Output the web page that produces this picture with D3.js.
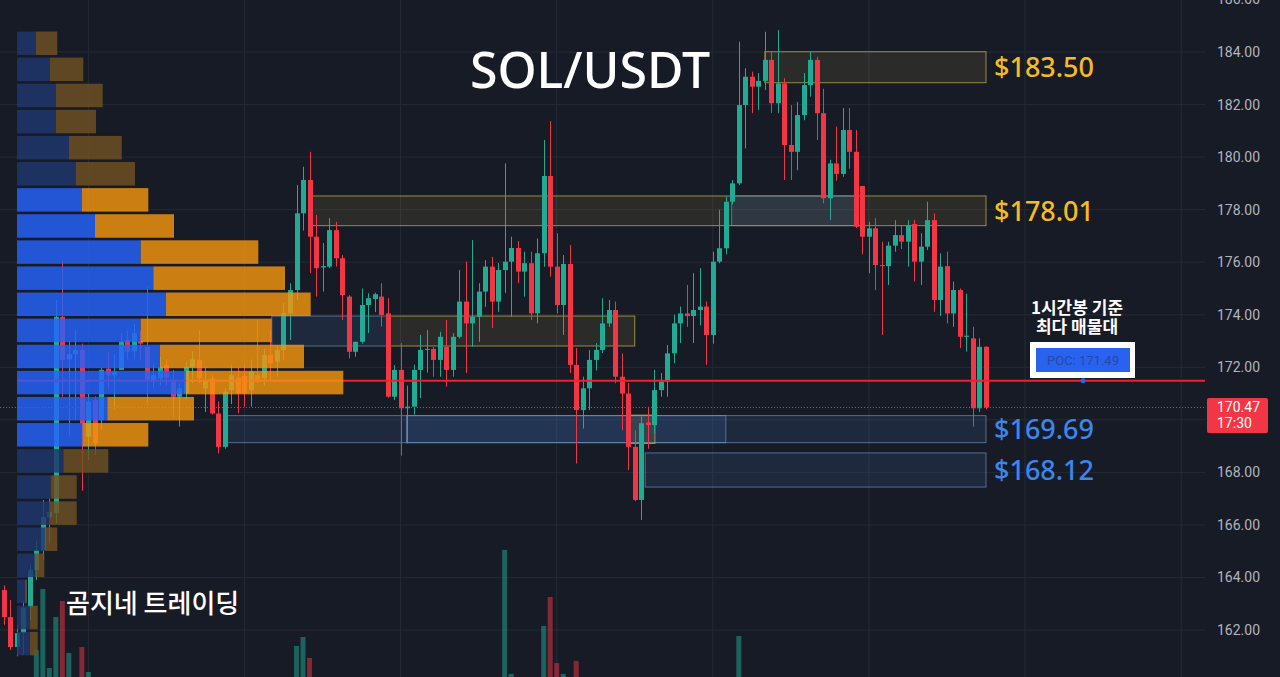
<!DOCTYPE html>
<html><head><meta charset="utf-8">
<script src="https://cdn.jsdelivr.net/npm/d3@7"></script>
<style>html,body{margin:0;padding:0;background:#171b26;overflow:hidden}svg{display:block}</style>
</head><body><svg id="c" width="1280" height="677"></svg>
<script>
// ---------------- data ----------------
const openP = [163.52,162.49,161.35,161.88,162.87,164.28,165.04,166.30,166.45,173.92,
172.30,172.50,172.66,169.36,170.75,169.99,171.95,171.70,171.90,173.04,
172.60,173.00,172.78,171.50,171.58,172.08,171.50,170.88,171.00,172.00,
172.28,171.20,171.58,170.24,168.97,171.13,171.60,171.67,171.13,171.70,
171.58,172.47,172.21,172.66,174.06,174.94,177.86,179.13,176.97,175.80,
175.83,177.22,176.15,174.69,172.59,172.97,174.37,174.60,174.69,174.05,
170.88,171.90,170.44,170.50,171.90,172.66,172.70,172.28,172.78,171.90,
173.16,174.50,173.67,173.92,174.88,175.83,174.50,175.70,176.02,176.54,
175.64,175.96,174.05,176.34,179.28,175.83,174.37,175.93,172.09,170.37,
171.20,172.28,172.66,173.67,174.18,171.64,171.00,168.97,166.95,169.90,
169.80,171.13,171.45,172.53,173.67,174.05,173.95,174.18,174.31,173.23,
176.02,176.53,178.30,179.00,181.98,183.06,182.68,182.90,183.70,182.05,
182.80,180.46,180.20,181.60,182.74,183.70,181.67,178.43,179.76,179.36,
181.03,180.20,178.90,176.97,177.29,175.89,175.85,176.63,177.03,176.78,
177.45,176.02,176.59,177.60,174.56,175.85,174.05,174.94,173.16,173.10,
170.44,172.78];
const highP = [163.70,163.14,162.20,163.10,164.50,165.40,166.95,167.00,174.56,176.08,
173.00,173.42,172.90,171.00,170.90,172.00,172.60,172.50,173.30,173.40,
173.65,173.40,175.07,172.10,172.40,172.30,171.90,171.40,172.20,172.60,
173.42,172.00,171.70,170.70,171.20,172.10,172.00,172.10,172.30,173.80,
172.70,173.42,172.80,174.45,175.20,178.94,179.63,180.20,177.80,176.73,
177.68,177.54,176.27,174.75,172.97,175.00,174.82,174.84,175.20,174.63,
172.08,172.92,171.30,172.10,173.23,173.42,172.78,173.35,173.80,173.30,
175.70,176.02,176.84,175.20,176.08,176.20,175.97,179.76,176.97,176.80,
176.40,176.40,176.90,180.65,181.37,177.10,176.27,176.65,172.73,171.64,
172.66,172.92,174.63,174.56,174.50,172.53,171.40,169.60,170.13,170.50,
171.90,171.78,172.85,174.00,174.31,175.13,175.58,175.77,174.50,176.40,
177.99,178.50,179.13,184.39,183.38,183.25,183.20,184.77,184.00,184.84,
183.00,181.98,182.10,183.20,184.00,183.82,182.60,179.90,181.16,181.87,
181.87,181.03,178.90,177.54,177.68,176.78,176.78,177.60,177.40,177.60,
177.60,177.10,178.30,177.86,176.34,176.40,175.26,175.00,174.80,173.54,
173.10,172.80];
const lowP = [162.20,161.24,161.00,161.05,162.38,163.90,164.66,165.30,166.07,170.88,
169.40,169.99,167.30,168.47,168.66,169.60,171.20,170.40,171.90,172.30,
172.30,172.30,170.63,171.20,171.30,171.30,170.10,169.74,170.80,171.40,
171.40,170.30,170.20,168.72,168.90,170.60,170.25,170.50,170.50,171.40,
171.30,171.50,171.64,172.28,173.04,174.56,177.20,175.59,174.69,174.88,
175.77,175.83,173.80,172.34,172.40,172.90,173.30,174.10,173.55,170.84,
170.75,168.64,169.10,170.20,170.83,171.80,171.64,171.64,171.26,171.64,
173.10,171.78,172.78,172.97,174.30,173.50,174.11,174.83,173.92,175.20,
174.69,173.80,173.67,175.83,175.45,174.05,173.23,171.78,168.34,169.67,
170.37,171.88,172.54,173.54,171.39,169.60,168.09,166.90,166.19,168.90,
169.50,170.88,170.88,172.15,172.92,173.54,172.92,173.60,172.09,172.90,
175.96,176.30,178.20,178.94,180.33,181.67,181.80,182.55,181.68,181.67,
179.13,179.13,179.50,181.40,182.30,180.65,178.24,177.60,179.10,179.25,
179.56,177.30,176.30,175.58,174.94,173.23,175.13,176.40,176.50,175.83,
175.26,175.13,176.46,174.11,173.95,173.67,173.54,172.73,172.60,169.74,
170.30,170.40];
const closeP = [162.49,161.35,161.88,162.83,164.28,165.04,166.30,166.50,173.92,172.28,
172.50,172.66,169.86,170.69,169.10,171.90,171.70,171.83,172.97,172.60,
173.30,172.90,171.52,171.70,172.02,171.60,170.88,171.20,172.02,172.30,
171.58,171.50,170.24,168.97,171.07,171.70,171.00,171.00,171.83,171.45,
172.47,172.15,172.66,174.06,174.94,177.86,179.13,176.97,175.77,175.85,
177.22,176.15,174.75,172.59,172.97,174.37,174.63,174.78,173.99,170.88,
171.90,170.44,170.50,171.90,172.66,172.70,172.28,173.16,171.90,173.16,
174.50,173.67,173.92,174.88,175.83,174.50,175.70,176.02,176.54,175.64,
175.96,174.05,176.34,179.28,175.83,174.37,175.93,172.09,170.37,171.20,
172.28,172.66,173.67,174.18,171.64,171.00,168.97,166.95,169.87,169.80,
171.13,171.45,172.53,173.67,174.05,173.95,174.18,174.31,173.23,176.02,
176.53,178.30,179.00,181.98,183.06,182.68,182.90,183.70,182.05,182.80,
180.46,180.20,181.60,182.74,183.70,181.67,178.43,179.76,179.36,181.03,
180.20,177.35,176.97,177.29,175.89,175.85,176.63,177.03,176.78,177.41,
176.02,176.59,177.60,174.56,175.83,174.05,174.94,173.16,173.20,170.44,
172.78,170.47];
const volumes = [8,10,7,9,12,31.3,69.4,20,51.9,61.9,
29.4,12,33.1,17.5,11,9,8,10,7,6,
8,7,12,6,7,6,9,8,7,6,
9,7,8,10,12,7,8,6,9,6,
8,7,9,10,12,33.8,39.4,26.3,13,12,
8,9,11,13,7,10,6,5,8,13,
9,12,11,7,6,7,8,6,7,9,
12,11,8,7,9,8,7,93.8,16.3,9,
7,10,12,46.3,64.4,23.1,16.3,13,24.4,11,
9,7,9,6,10,11,13,13,12,8,
9,7,9,8,6,7,6,7,6,9,
10,8,11,40,12,9,7,11,10,12,
9,11,8,7,9,8,10,12,9,8,
9,8,11,7,8,9,6,7,6,5,
6,7,6,5,9,7,6,8,6,11,
9,10];
const priceTicks = [186,184,182,180,178,176,174,172,170,168,166,164,162];
const dayTicks = [13,37,61,85,109,133,157,181];
// volume profile (buy / sell volume per price row, top row first)
const profileBuy  = [19,33,39,39,52,58.7,64.7,78,123.7,136.3,149,123.7,143,169,90.3,65.7,46.3,33.7,33,28,18,8,13,13];
const profileSell = [21.3,33.3,46.7,40,52.7,59.3,66.6,79,117.6,131.7,144.7,131,144,157.3,86.7,65.6,45,26,26.7,12.3,9.3,2,7.7,7.7];
const profileTopPrice = 184.78, profileRowPrice = 0.9935, profileBarPrice = 0.895;
const valueAreaRows = [6, 15];
const pocPrice = 171.49;
const lastPrice = 170.47, lastTime = "17:30";
// zones: price range and candle-index range
const zones = [
  {kind:"y", top:184.01, bot:182.83, i0:117.0, i1:151},
  {kind:"y", top:178.52, bot:177.39, i0:47.2, i1:151},
  {kind:"b", top:178.52, bot:177.39, i0:111.9, i1:130.9},
  {kind:"b", top:173.95, bot:172.81, i0:41.2, i1:59.4},
  {kind:"y", top:173.95, bot:172.81, i0:59.4, i1:97.0},
  {kind:"b", top:170.16, bot:169.13, i0:34.3, i1:111.0},
  {kind:"b", top:170.16, bot:169.13, i0:61.9, i1:151},
  {kind:"y", top:170.18, bot:169.10, i0:96.3, i1:100.1},
  {kind:"b", top:168.74, bot:167.44, i0:98.6, i1:151}
];
const zoneLabels = [
  {text:"$183.50", top:184.01, bot:182.83, kind:"y"},
  {text:"$178.01", top:178.52, bot:177.39, kind:"y"},
  {text:"$169.69", top:170.16, bot:169.13, kind:"b"},
  {text:"$168.12", top:168.74, bot:167.44, kind:"b"}
];
const title = "SOL/USDT";
const brand = "곰지네 트레이딩";
const noteLines = ["1시간봉 기준", "최다 매물대"];

// ---------------- drawing ----------------
const W = 1280, H = 677, paneRight = 1205;
const svg = d3.select("#c");
const x = d3.scaleLinear().domain([0, 151]).range([3.8, 986]);
const y = d3.scaleLinear().domain([162, 184]).range([630, 52]);
const yv = d3.scaleLinear().domain([0, 100]).range([700, 540]);
const pw = d3.scaleLinear().domain([0, 100]).range([0, 100]);
const UP = "#22ab94", DN = "#f23645";
const candles = openP.map((o, i) => ({i, o, h: highP[i], l: lowP[i], c: closeP[i], v: volumes[i]}));

svg.append("rect").attr("width", W).attr("height", H).attr("fill", "#171b26");

// grid
svg.append("g").selectAll("line").data(priceTicks).join("line")
  .attr("x1", 0).attr("x2", paneRight).attr("y1", d => y(d)).attr("y2", d => y(d))
  .attr("stroke", "#262a36").attr("stroke-width", 1);
svg.append("g").selectAll("line").data(dayTicks).join("line")
  .attr("x1", d => x(d)).attr("x2", d => x(d)).attr("y1", 0).attr("y2", H)
  .attr("stroke", "#262a36").attr("stroke-width", 1);

// zones
svg.append("g").selectAll("rect").data(zones).join("rect")
  .attr("x", d => x(d.i0)).attr("width", d => x(d.i1) - x(d.i0))
  .attr("y", d => y(d.top)).attr("height", d => y(d.bot) - y(d.top))
  .attr("fill", d => d.kind === "y" ? "rgba(190,175,70,0.12)" : "rgba(70,120,190,0.16)")
  .attr("stroke", d => d.kind === "y" ? "rgba(200,185,70,0.7)" : "rgba(120,160,205,0.6)")
  .attr("stroke-width", 1);

// volume bars
svg.append("g").selectAll("rect").data(candles).join("rect")
  .attr("x", d => x(d.i) - 2.5).attr("width", 5)
  .attr("y", d => yv(d.v)).attr("height", d => yv(0) - yv(d.v))
  .attr("fill", d => d.c >= d.o ? "rgba(34,171,148,0.5)" : "rgba(242,54,69,0.5)");

// candles
const cg = svg.append("g");
cg.selectAll("line").data(candles).join("line")
  .attr("x1", d => Math.round(x(d.i)) + 0.5).attr("x2", d => Math.round(x(d.i)) + 0.5)
  .attr("y1", d => y(d.h)).attr("y2", d => y(d.l))
  .attr("stroke", d => d.c >= d.o ? UP : DN).attr("stroke-width", 1);
cg.selectAll("rect").data(candles).join("rect")
  .attr("x", d => Math.round(x(d.i)) - 2).attr("width", 5)
  .attr("y", d => y(Math.max(d.o, d.c)))
  .attr("height", d => Math.max(1, Math.abs(y(d.o) - y(d.c))))
  .attr("fill", d => d.c >= d.o ? UP : DN);

// last price dotted line and POC line
svg.append("line").attr("x1", 0).attr("x2", paneRight).attr("y1", y(lastPrice)).attr("y2", y(lastPrice))
  .attr("stroke", DN).attr("stroke-width", 1).attr("stroke-dasharray", "1,2");
svg.append("line").attr("x1", 17).attr("x2", paneRight).attr("y1", y(pocPrice)).attr("y2", y(pocPrice))
  .attr("stroke", "#f0202e").attr("stroke-width", 2);

// volume profile
const rows = profileBuy.map((b, r) => ({r, b, s: profileSell[r],
  top: profileTopPrice - r * profileRowPrice,
  va: r >= valueAreaRows[0] && r <= valueAreaRows[1]}));
const pg = svg.append("g").attr("opacity", 0.82);
pg.selectAll("rect.b").data(rows).join("rect").attr("class", "b")
  .attr("x", 17).attr("width", d => pw(d.b))
  .attr("y", d => y(d.top)).attr("height", d => y(d.top - profileBarPrice) - y(d.top))
  .attr("fill", d => d.va ? "#2663fb" : "#20386e");
pg.selectAll("rect.s").data(rows).join("rect").attr("class", "s")
  .attr("x", d => 17 + pw(d.b)).attr("width", d => pw(d.s))
  .attr("y", d => y(d.top)).attr("height", d => y(d.top - profileBarPrice) - y(d.top))
  .attr("fill", d => d.va ? "#f39610" : "#715123");

// price axis (the label under the last-price box is hidden, as in the original)
const axisTicks = priceTicks.filter(p => Math.abs(p - lastPrice) > 1);
const axis = d3.axisRight(y).tickValues(axisTicks).tickSize(0).tickPadding(12).tickFormat(d3.format(".2f"));
const ag = svg.append("g").attr("transform", `translate(${paneRight},0)`).call(axis);
ag.select(".domain").remove();
ag.selectAll("text").attr("fill", "#b2b5be").style("font", "14px Roboto, 'Noto Sans', sans-serif");

// last price box
const lp = svg.append("g");
lp.append("rect").attr("x", 1207).attr("y", y(lastPrice) - 9.5).attr("width", 61).attr("height", 35).attr("rx", 2).attr("fill", DN);
lp.append("text").attr("x", 1217).attr("y", y(lastPrice) + 5).text(lastPrice.toFixed(2))
  .attr("fill", "#fff").style("font", "14px Roboto, 'Noto Sans', sans-serif");
lp.append("text").attr("x", 1217).attr("y", y(lastPrice) + 21).text(lastTime)
  .attr("fill", "#fff").style("font", "14px Roboto, 'Noto Sans', sans-serif");

// zone labels
svg.append("g").selectAll("text").data(zoneLabels).join("text")
  .attr("x", 994).attr("y", d => y((d.top + d.bot) / 2)).attr("dy", "0.36em")
  .text(d => d.text)
  .attr("fill", d => d.kind === "y" ? "#f5bb22" : "#3d86ec")
  .style("font", "500 27px 'Noto Sans', 'Open Sans', sans-serif");

// title & brand
svg.append("text").attr("x", 590).attr("y", 88).attr("text-anchor", "middle").text(title)
  .attr("fill", "#ffffff").style("font", "500 50px 'Noto Sans', 'Open Sans', sans-serif");
svg.append("text").attr("x", 66).attr("y", 613).text(brand)
  .attr("fill", "#ffffff").style("font", "500 26px 'Noto Sans CJK KR', sans-serif");

// POC note (one text, two lines)
const note = svg.append("text").attr("text-anchor", "middle")
  .attr("fill", "#ffffff").style("font", "700 17px 'Noto Sans CJK KR', sans-serif");
note.selectAll("tspan").data(noteLines).join("tspan")
  .attr("x", 1077).attr("y", (d, i) => 314 + i * 19).text(d => d);
const pb = svg.append("g");
pb.append("rect").attr("x", 1030).attr("y", 342).attr("width", 105).attr("height", 36).attr("fill", "#ffffff");
pb.append("rect").attr("x", 1036).attr("y", 348).attr("width", 94).attr("height", 24).attr("fill", "#2a62f0");
pb.append("text").attr("x", 1083).attr("y", 360).attr("dy", "0.36em").attr("text-anchor", "middle")
  .text("POC: " + pocPrice.toFixed(2)).attr("fill", "#2448a8")
  .style("font", "13px Roboto, 'Noto Sans', sans-serif");
svg.append("circle").attr("cx", 1083).attr("cy", y(pocPrice)).attr("r", 2.5).attr("fill", "#2a62f0");
</script></body></html>
